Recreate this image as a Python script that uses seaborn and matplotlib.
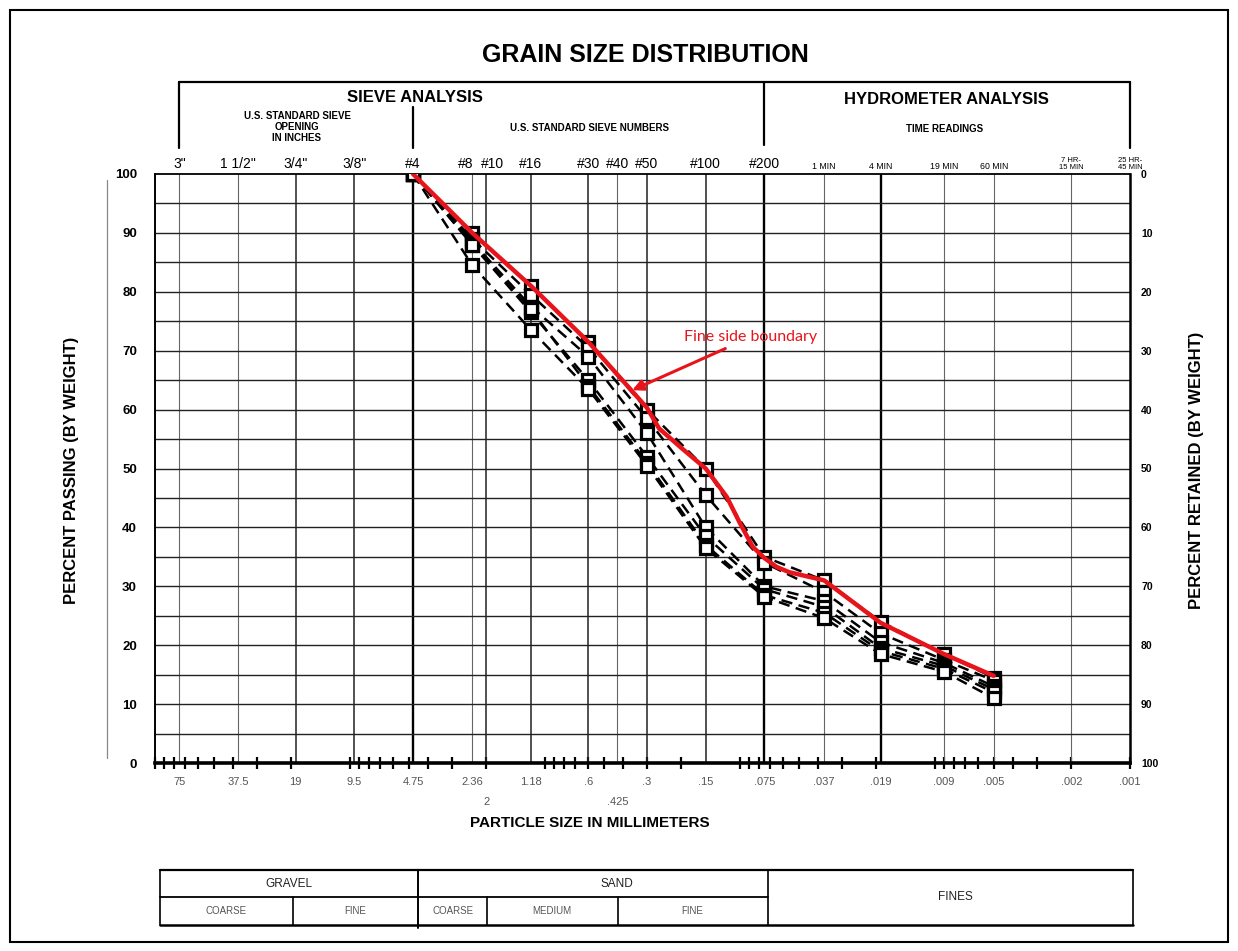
import numpy as np
import pandas as pd
import matplotlib
matplotlib.use("Agg")
import matplotlib.pyplot as plt
import seaborn as sns
from matplotlib.transforms import blended_transform_factory
from matplotlib.lines import Line2D
from matplotlib.patches import Rectangle
from matplotlib.ticker import LogLocator, NullFormatter

# ---------------- data ----------------
sieve_sizes = [4.75, 2.36, 1.18, 0.6, 0.3, 0.15, 0.075, 0.037, 0.019, 0.009, 0.005]
sample_a = [100, 90.0, 81.0, 71.5, 60.0, 50.0, 35.0, 31.0, 24.0, 18.5, 14.5]
sample_b = [100, 89.0, 79.5, 70.5, 58.5, 45.5, 34.0, 29.0, 22.0, 17.5, 14.0]
sample_c = [100, 88.5, 77.5, 69.0, 56.0, 40.0, 30.0, 27.5, 20.5, 17.0, 13.0]
sample_d = [100, 88.0, 76.5, 65.0, 52.0, 38.5, 29.5, 26.5, 19.5, 16.5, 12.5]
sample_e = [100, 88.0, 77.0, 64.0, 51.0, 37.0, 28.5, 25.5, 19.0, 16.0, 12.0]
sample_f = [100, 84.5, 73.5, 63.5, 50.5, 36.5, 28.2, 24.6, 18.5, 15.5, 11.0]

boundary_sizes = [4.75, 2.36, 1.18, 0.6, 0.3, 0.26, 0.2, 0.15, 0.117, 0.1, 0.086,
                  0.075, 0.065, 0.056, 0.037, 0.019, 0.009, 0.005]
boundary_pct = [100, 90.0, 81.0, 71.5, 60.3, 56.8, 53.5, 50.0, 45.2, 40.7, 36.7,
                34.8, 33.3, 32.4, 31.0, 23.8, 18.5, 14.8]

grid_sizes = [75, 37.5, 19, 9.5, 4.75, 2.36, 2.0, 1.18, 0.6, 0.425, 0.3, 0.15,
              0.075, 0.037, 0.019, 0.009, 0.005, 0.002]
grid_weight = ["thin", "thin", "mid", "mid", "thick", "thin", "mid", "mid", "mid",
               "thin", "mid", "mid", "thick", "thin", "thick", "thin", "thin", "thin"]

top_label_sizes = [75, 37.5, 19, 9.5, 4.75, 2.36, 2.0, 1.18, 0.6, 0.425, 0.3, 0.15,
                   0.075, 0.037, 0.019, 0.009, 0.005, 0.002, 0.001]
top_labels = ['3"', '1 1/2"', '3/4"', '3/8"', '#4', '#8', '#10', '#16', '#30', '#40',
              '#50', '#100', '#200', '1 MIN', '4 MIN', '19 MIN', '60 MIN',
              '7 HR-\n15 MIN', '25 HR-\n45 MIN']

bottom_sizes = [75, 37.5, 19, 9.5, 4.75, 2.36, 1.18, 0.6, 0.3, 0.15, 0.075, 0.037,
                0.019, 0.009, 0.005, 0.002, 0.001]
bottom_labels = ['75', '37.5', '19', '9.5', '4.75', '2.36', '1.18', '.6', '.3', '.15',
                 '.075', '.037', '.019', '.009', '.005', '.002', '.001']
bottom2_sizes = [2.0, 0.425]
bottom2_labels = ['2', '.425']

passing_ticks = list(range(0, 101, 10))

# ---------------- style ----------------
sns.set_style("white")
plt.rcParams["font.family"] = ["Liberation Sans", "DejaVu Sans"]
plt.rcParams["text.color"] = "black"
plt.rcParams["axes.labelcolor"] = "black"
plt.rcParams["xtick.color"] = "black"
plt.rcParams["ytick.color"] = "black"

W, H = 1238, 951
fig = plt.figure(figsize=(W / 100, H / 100), dpi=100)
ax = fig.add_axes([155 / W, 1 - 763 / H, 975 / W, 589 / H])

def fx(px):
    return px / W

def fy(py):
    return 1 - py / H

samples = {"A": sample_a, "B": sample_b, "C": sample_c,
           "D": sample_d, "E": sample_e, "F": sample_f}
rows = []
for name, vals in samples.items():
    for s, p in zip(sieve_sizes, vals):
        rows.append((name, s, p))
df = pd.DataFrame(rows, columns=["sample", "size", "pct"])

ax.set_xscale("log")

sns.lineplot(data=df, x="size", y="pct", units="sample", estimator=None, sort=False,
             color="black", lw=1.8, linestyle=(0, (4.5, 2.6)), marker="s",
             markersize=8, markerfacecolor="white", markeredgecolor="black",
             markeredgewidth=2.3, ax=ax, zorder=3, legend=False)

red = "#e8141b"
sns.lineplot(x=boundary_sizes, y=boundary_pct, sort=False, color=red, lw=3.2,
             ax=ax, zorder=4, legend=False)

ax.set_xlim(100, 0.001)
ax.set_ylim(0, 100)

# grid
wmap = {"thin": (0.8, "#666666"), "mid": (1.1, "#222222"), "thick": (1.7, "#000000")}
for s, w in zip(grid_sizes, grid_weight):
    lw, c = wmap[w]
    ax.axvline(s, color=c, lw=lw, zorder=1)
for v in range(5, 100, 5):
    ax.axhline(v, color="#222222", lw=1.0, zorder=1)

# ticks
ax.xaxis.set_major_locator(LogLocator(base=10, numticks=20))
ax.xaxis.set_minor_locator(LogLocator(base=10, subs=np.arange(2, 10), numticks=100))
ax.xaxis.set_major_formatter(NullFormatter())
ax.xaxis.set_minor_formatter(NullFormatter())
ax.tick_params(axis="x", which="both", direction="inout", length=8, width=1.6,
               color="black", bottom=True, top=False)
ax.set_yticks(passing_ticks)
ax.set_yticklabels([str(t) for t in passing_ticks], fontsize=9.5, fontweight="bold")
ax.tick_params(axis="y", length=0, pad=13)
ax.set_xlabel("")
ax.set_ylabel("")

for side, lw in [("bottom", 2.6), ("left", 1.4), ("top", 1.3), ("right", 1.8)]:
    ax.spines[side].set_visible(True)
    ax.spines[side].set_color("black")
    ax.spines[side].set_linewidth(lw)

ax2 = ax.twinx()
ax2.set_ylim(100, 0)
ax2.set_yticks(passing_ticks)
ax2.set_yticklabels([str(t) for t in passing_ticks], fontsize=7.5, fontweight="bold")
ax2.tick_params(axis="y", length=0, pad=8)
for side in ["bottom", "left", "top", "right"]:
    ax2.spines[side].set_visible(False)

# top and bottom labels
tr = blended_transform_factory(ax.transData, ax.transAxes)
for s, lab in zip(top_label_sizes, top_labels):
    if "MIN" in lab:
        fs = 5.5 if "\n" in lab else 6.3
    else:
        fs = 10
    dx = 0
    if lab == "#8":
        dx = -4.5
    elif lab == "#10":
        dx = 4.5
    ax.annotate(lab, xy=(s, 1.0), xycoords=tr, xytext=(dx, 2.5),
                textcoords="offset points", ha="center", va="bottom", fontsize=fs,
                color="black", linespacing=0.9)
for s, lab in zip(bottom_sizes, bottom_labels):
    ax.text(s, -0.032, lab, transform=tr, ha="center", va="center", fontsize=8,
            color="#555555")
for s, lab in zip(bottom2_sizes, bottom2_labels):
    ax.text(s, -0.066, lab, transform=tr, ha="center", va="center", fontsize=8,
            color="#555555")

# annotation
ax.annotate("Fine side boundary", xy=(0.357, 63.3), xytext=(0.193, 72.3),
            color=red, fontsize=11.5, family=["Lato", "DejaVu Sans"], ha="left",
            va="center",
            arrowprops=dict(arrowstyle="-|>", color=red, lw=2.2, mutation_scale=16,
                            shrinkA=2, shrinkB=0), zorder=6)

# titles / labels
fig.text(fx(645), fy(55), "GRAIN SIZE DISTRIBUTION", ha="center", va="center",
         fontsize=18, fontweight="bold")
fig.text(fx(72), fy(470), "PERCENT PASSING (BY WEIGHT)", rotation=90, ha="center",
         va="center", fontsize=12, fontweight="bold")
fig.text(fx(1197), fy(470), "PERCENT RETAINED (BY WEIGHT)", rotation=90,
         ha="center", va="center", fontsize=12, fontweight="bold")
fig.text(fx(590), fy(823), "PARTICLE SIZE IN MILLIMETERS", ha="center", va="center",
         fontsize=11, fontweight="bold")

# header block
trh = blended_transform_factory(ax.transData, fig.transFigure)
hdr = [([75, 0.001], [fy(82), fy(82)]),
       ([75, 75], [fy(82), fy(148)]),
       ([4.75, 4.75], [fy(107), fy(148)]),
       ([0.075, 0.075], [fy(82), fy(145)]),
       ([0.001, 0.001], [fy(82), fy(148)])]
for xs, ys in hdr:
    fig.add_artist(Line2D(xs, ys, transform=trh, color="black", lw=1.6))
fig.text(fx(415), fy(98), "SIEVE ANALYSIS", ha="center", va="center", fontsize=12,
         fontweight="bold")
fig.text(fx(946), fy(99), "HYDROMETER ANALYSIS", ha="center", va="center",
         fontsize=12, fontweight="bold")
fig.text(fx(297), fy(127), "U.S. STANDARD SIEVE\nOPENING\nIN INCHES", ha="center",
         va="center", fontsize=7, fontweight="bold", linespacing=1.15)
fig.text(fx(590), fy(128), "U.S. STANDARD SIEVE NUMBERS", ha="center", va="center",
         fontsize=7, fontweight="bold")
fig.text(fx(945), fy(129), "TIME READINGS", ha="center", va="center", fontsize=7,
         fontweight="bold")

# thin line at left of the y labels
fig.add_artist(Line2D([fx(107), fx(107)], [fy(180), fy(758)], color="#888888", lw=0.9))

# bottom classification table
def hline(x0, x1, y, lw=1.4):
    fig.add_artist(Line2D([fx(x0), fx(x1)], [fy(y), fy(y)], color="black", lw=lw))

def vline(x, y0, y1, lw=1.2):
    fig.add_artist(Line2D([fx(x), fx(x)], [fy(y0), fy(y1)], color="black", lw=lw))

hline(160, 1133, 870, 1.6)
hline(160, 1133, 925, 1.8)
hline(160, 768, 897, 1.3)
vline(160, 870, 925)
vline(1133, 870, 925)
vline(418, 870, 928, 1.4)
vline(768, 870, 925)
vline(293, 897, 925)
vline(487, 897, 925)
vline(618, 897, 925)
for x, y, t, fs, c in [(289, 884, "GRAVEL", 8.5, "#222222"), (617, 884, "SAND", 8.5, "#222222"),
                       (955, 897, "FINES", 8.5, "#222222"),
                       (226, 911, "COARSE", 7, "#555555"), (355, 911, "FINE", 7, "#555555"),
                       (453, 911, "COARSE", 7, "#555555"), (552, 911, "MEDIUM", 7, "#555555"),
                       (692, 911, "FINE", 7, "#555555")]:
    fig.text(fx(x), fy(y), t, ha="center", va="center", fontsize=fs, color=c)

# outer frame
fig.add_artist(Rectangle((fx(10), fy(942)), fx(1218), 932 / H, fill=False,
                         edgecolor="black", lw=1.5, transform=fig.transFigure))

fig.savefig("out.png", dpi=100)
